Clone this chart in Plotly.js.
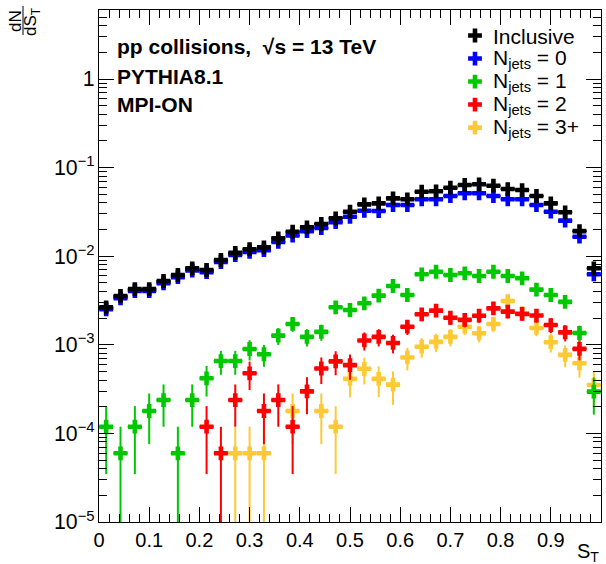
<!DOCTYPE html>
<html>
<head>
<meta charset="utf-8">
<script src="https://cdn.plot.ly/plotly-3.0.1.min.js"></script>
<style>html,body{margin:0;padding:0;background:#fff;}#chart{width:606px;height:564px;}</style>
</head>
<body>
<div id="chart"></div>
<script>
// 35 bins of S_T over [0, 1]
const NBINS = 35;
const binCenters = Array.from({length: NBINS}, (_, i) => (i + 0.5) / NBINS);
const halfBin = 0.5 / NBINS;
// fraction of events corresponding to one event (for Poisson error bars)
const ONE_EVENT = 5.96e-5;

const inclusive = [2.65e-3, 3.56e-3, 4.26e-3, 4.26e-3, 5.25e-3, 6.14e-3, 7.3e-3, 6.99e-3, 9.06e-3, 1.09e-2,
  1.2e-2, 1.26e-2, 1.59e-2, 1.89e-2, 2.12e-2, 2.31e-2, 2.68e-2, 3.18e-2, 3.85e-2, 3.95e-2,
  4.5e-2, 4.39e-2, 5.35e-2, 5.4e-2, 5.93e-2, 6.37e-2, 6.48e-2, 6.25e-2, 5.73e-2, 5.58e-2,
  4.78e-2, 3.95e-2, 3.13e-2, 1.92e-2, 7.3e-3];
const njets0 = [2.52e-3, 3.35e-3, 4.05e-3, 4.05e-3, 4.95e-3, 5.8e-3, 6.9e-3, 6.6e-3, 8.6e-3, 1.03e-2,
  1.12e-2, 1.17e-2, 1.45e-2, 1.71e-2, 1.92e-2, 2.08e-2, 2.42e-2, 2.79e-2, 3.26e-2, 3.24e-2,
  3.78e-2, 3.78e-2, 4.39e-2, 4.39e-2, 4.78e-2, 5.13e-2, 5.13e-2, 4.78e-2, 4.39e-2, 4.39e-2,
  3.78e-2, 3.18e-2, 2.52e-2, 1.66e-2, 6.25e-3];
const njets1 = [1.19e-4, 5.96e-5, 1.19e-4, 1.79e-4, 2.38e-4, 5.96e-5, 2.38e-4, 4.19e-4, 6.56e-4, 6.56e-4,
  8.97e-4, 7.82e-4, 1.27e-3, 1.72e-3, 1.23e-3, 1.4e-3, 2.65e-3, 2.47e-3, 2.94e-3, 3.59e-3,
  4.61e-3, 3.65e-3, 6.25e-3, 6.68e-3, 6.14e-3, 6.41e-3, 5.98e-3, 6.68e-3, 5.98e-3, 5.63e-3,
  4.2e-3, 3.65e-3, 3.05e-3, 1.36e-3, 2.96e-4];
const njets2 = [null, null, null, null, null, null, null, 1.19e-4, 5.96e-5, 2.38e-4,
  4.77e-4, 1.79e-4, 2.38e-4, 1.19e-4, 2.98e-4, 5.4e-4, 6.5e-4, 5.9e-4, 1.12e-3, 1.23e-3,
  1.05e-3, 1.6e-3, 2.21e-3, 2.43e-3, 2.02e-3, 1.91e-3, 2.13e-3, 2.58e-3, 2.37e-3, 2.23e-3,
  2.14e-3, 1.67e-3, 1.38e-3, 9.0e-4, null];
const njets3p = [null, null, null, null, null, null, null, null, null, 5.96e-5,
  5.96e-5, 5.96e-5, null, 1.79e-4, null, 1.79e-4, 1.19e-4, 4.13e-4, 5.36e-4, 4.13e-4,
  3.55e-4, 7.2e-4, 9.52e-4, 1.08e-3, 1.23e-3, 1.6e-3, 1.35e-3, 1.72e-3, 3.12e-3, 2.27e-3,
  1.55e-3, 1.07e-3, 7.7e-4, 6.18e-4, 3.52e-4];

const seriesNames = ['Inclusive', 'N<sub>jets</sub> = 0', 'N<sub>jets</sub> = 1', 'N<sub>jets</sub> = 2', 'N<sub>jets</sub> = 3+'];
const seriesColors = ['#000000', '#0000ff', '#00c800', '#ff0000', '#ffc933'];
const seriesData = [inclusive, njets0, njets1, njets2, njets3p];

function poissonErr(vals) {
  return vals.map(v => v == null ? null : Math.sqrt(v * ONE_EVENT));
}

const FONT = '"Liberation Sans", Arial, Helvetica, sans-serif';

const W = 606, H = 564, L = 99, R = 5, T = 10, B = 42;
const pw = W - L - R, ph = H - T - B;
const px = v => (v - L) / pw;
const py = v => (H - B - v) / ph;

const traces = [];
// draw in reverse order so Inclusive is on top; legend reversed to keep order
for (let k = seriesData.length - 1; k >= 0; k--) {
  traces.push({
    type: 'scatter',
    mode: 'markers',
    name: '\u00a0',
    x: binCenters,
    y: seriesData[k],
    marker: {symbol: 'cross', size: 11.5, color: seriesColors[k], line: {width: 0}},
    error_y: {type: 'data', array: poissonErr(seriesData[k]), symmetric: true, thickness: 2, width: 0, color: seriesColors[k]},
    error_x: {type: 'constant', value: halfBin, thickness: 2, width: 0, color: seriesColors[k]},
    cliponaxis: true
  });
}

// legend labels (rows placed to match the compact ROOT legend)
const legendRowsY = [36, 59, 82, 105, 128];
const legendAnn = seriesNames.map((nm, k) => ({
  xref: 'paper', yref: 'paper', x: px(491), y: py(legendRowsY[k]), xanchor: 'left', yanchor: 'middle',
  showarrow: false, text: nm, font: {family: FONT, size: 21, color: '#000'}
}));

const layout = {
  width: W, height: H,
  margin: {l: L, r: R, t: T, b: B, pad: 0},
  paper_bgcolor: '#ffffff',
  plot_bgcolor: '#ffffff',
  font: {family: FONT, color: '#000000'},
  showlegend: true,
  legend: {
    x: px(455), y: py(19), xanchor: 'left', yanchor: 'top',
    traceorder: 'reversed',
    bgcolor: 'rgba(0,0,0,0)', borderwidth: 0,
    font: {family: FONT, size: 15.4, color: '#000000'},
    itemwidth: 30
  },
  xaxis: {
    type: 'linear', range: [0, 1],
    tickmode: 'linear', tick0: 0, dtick: 0.1,
    ticks: 'inside', ticklen: 15, tickwidth: 1, tickcolor: '#000',
    minor: {ticks: 'inside', ticklen: 8, dtick: 0.02, tickcolor: '#000', showgrid: false},
    showline: true, linecolor: '#000', linewidth: 1, mirror: 'ticks',
    showgrid: false, zeroline: false,
    tickfont: {family: FONT, size: 20, color: '#000'},
    ticklabelstandoff: 0
  },
  yaxis: {
    type: 'log', range: [-5, 0.779],
    dtick: 1, exponentformat: 'power',
    ticks: 'inside', ticklen: 15, tickwidth: 1, tickcolor: '#000',
    minor: {ticks: 'inside', ticklen: 8, tickcolor: '#000', showgrid: false},
    showline: true, linecolor: '#000', linewidth: 1, mirror: 'ticks',
    showgrid: false, zeroline: false,
    tickfont: {family: FONT, size: 17, color: '#000'}
  },
  annotations: [
    {xref: 'paper', yref: 'paper', x: px(115), y: py(46), xanchor: 'left', yanchor: 'middle', showarrow: false,
     text: '<b>pp collisions,\u00a0\u00a0√s = 13 TeV</b>', font: {family: FONT, size: 21, color: '#000'}},
    {xref: 'paper', yref: 'paper', x: px(115), y: py(76), xanchor: 'left', yanchor: 'middle', showarrow: false,
     text: '<b>PYTHIA8.1</b>', font: {family: FONT, size: 21, color: '#000'}},
    {xref: 'paper', yref: 'paper', x: px(115), y: py(104), xanchor: 'left', yanchor: 'middle', showarrow: false,
     text: '<b>MPI-ON</b>', font: {family: FONT, size: 21, color: '#000'}},
    {xref: 'paper', yref: 'paper', x: px(15), y: py(21), xanchor: 'center', yanchor: 'middle', showarrow: false,
     textangle: -90, text: 'dN', font: {family: FONT, size: 17, color: '#000'}},
    {xref: 'paper', yref: 'paper', x: px(32), y: py(22), xanchor: 'center', yanchor: 'middle', showarrow: false,
     textangle: -90, text: 'dS<sub>T</sub>', font: {family: FONT, size: 17, color: '#000'}},
    {xref: 'paper', yref: 'paper', x: 1, y: py(552), xanchor: 'right', yanchor: 'middle', showarrow: false,
     text: 'S<sub>T</sub>', font: {family: FONT, size: 20, color: '#000'}}
  ].concat(legendAnn),
  shapes: [
    {type: 'line', xref: 'paper', yref: 'paper', x0: px(23), x1: px(23), y0: py(6), y1: py(35),
     line: {color: '#000', width: 1}}
  ]
};

Plotly.newPlot('chart', traces, layout, {displayModeBar: false, staticPlot: true});
</script>
</body>
</html>
